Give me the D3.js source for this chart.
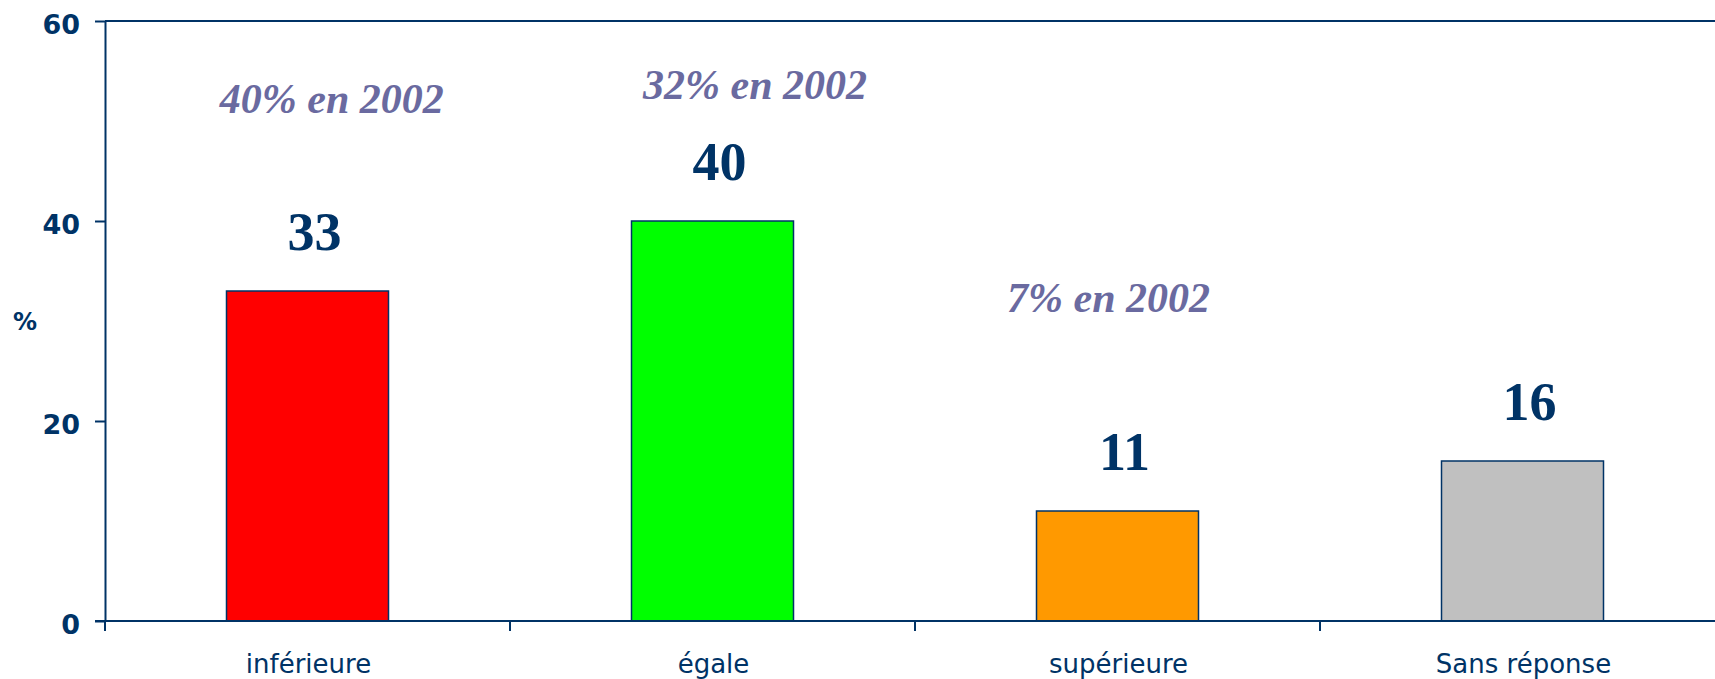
<!DOCTYPE html>
<html>
<head>
<meta charset="utf-8">
<script src="https://cdn.jsdelivr.net/npm/d3@7/dist/d3.min.js"></script>
<style>
  html, body { margin: 0; padding: 0; background: #ffffff; }
  svg { display: block; }
</style>
</head>
<body>
<svg id="chart" width="1715" height="679"></svg>
<script>
// ---- data ----
const categories = ["inférieure", "égale", "supérieure", "Sans réponse"];
const values = [33, 40, 11, 16];
const barColors = ["#ff0000", "#00ff00", "#ff9900", "#c0c0c0"];
const yTicks = [0, 20, 40, 60];
const annotationTexts = ["40% en 2002", "32% en 2002", "7% en 2002"];
const annotationCategories = ["inférieure", "égale", "supérieure"];
const annotationLevels = [50.8, 52.2, 30.9];
const annotationShift = [0.06, 0.105, -0.022];

// ---- layout ----
const plotLeft = 105, plotTop = 21, plotBottom = 621, plotRight = 1725;
const navy = "#003366";

const svg = d3.select("#chart");

const x = d3.scaleBand().domain(categories).range([plotLeft, plotRight]).padding(0);
const y = d3.scaleLinear().domain([0, 60]).range([plotBottom, plotTop]);
const bw = x.bandwidth();

// top frame line
svg.append("line")
  .attr("x1", plotLeft).attr("x2", plotRight)
  .attr("y1", y(60)).attr("y2", y(60))
  .attr("stroke", navy).attr("stroke-width", 2);

// bars
svg.selectAll("rect.bar")
  .data(categories)
  .join("rect")
  .attr("class", "bar")
  .attr("x", c => x(c) + bw * 0.3)
  .attr("width", bw * 0.4)
  .attr("y", (c, i) => y(values[i]))
  .attr("height", (c, i) => y(0) - y(values[i]))
  .attr("fill", (c, i) => barColors[i])
  .attr("stroke", navy)
  .attr("stroke-width", 1.5);

// y axis
const yAxis = d3.axisLeft(y)
  .tickValues(yTicks)
  .tickSize(10)
  .tickSizeOuter(0)
  .tickPadding(15)
  .tickFormat(d3.format("d"));
const gy = svg.append("g")
  .attr("transform", `translate(${plotLeft},0)`)
  .call(yAxis);
gy.select(".domain").attr("stroke", navy).attr("stroke-width", 2);
gy.selectAll(".tick line").attr("stroke", navy).attr("stroke-width", 2);
gy.selectAll(".tick text")
  .attr("fill", navy)
  .attr("font-family", "'DejaVu Sans', Verdana, sans-serif")
  .attr("font-weight", "bold")
  .attr("font-size", 27)
  .attr("dy", "0.48em");

// x axis line
svg.append("line")
  .attr("x1", plotLeft - 10).attr("x2", plotRight)
  .attr("y1", y(0)).attr("y2", y(0))
  .attr("stroke", navy).attr("stroke-width", 2);

// x ticks at band boundaries
svg.selectAll("line.xtick")
  .data(categories)
  .join("line")
  .attr("class", "xtick")
  .attr("x1", c => x(c)).attr("x2", c => x(c))
  .attr("y1", y(0)).attr("y2", y(0) + 10)
  .attr("stroke", navy).attr("stroke-width", 2);

// x labels
svg.selectAll("text.xlabel")
  .data(categories)
  .join("text")
  .attr("class", "xlabel")
  .attr("x", c => x(c) + bw / 2 + 1)
  .attr("y", y(0) + 52)
  .attr("text-anchor", "middle")
  .attr("fill", navy)
  .attr("font-family", "'DejaVu Sans', Verdana, sans-serif")
  .attr("font-size", 26)
  .text(c => c);

// value labels
svg.selectAll("text.value")
  .data(categories)
  .join("text")
  .attr("class", "value")
  .attr("x", c => x(c) + bw / 2 + 7)
  .attr("y", (c, i) => y(values[i]) - 41)
  .attr("text-anchor", "middle")
  .attr("fill", navy)
  .attr("font-family", "'Liberation Serif', 'Times New Roman', serif")
  .attr("font-weight", "bold")
  .attr("font-size", 54)
  .text((c, i) => values[i]);

// annotations (2002 values)
svg.selectAll("text.annot")
  .data(annotationTexts)
  .join("text")
  .attr("class", "annot")
  .attr("x", (t, i) => x(annotationCategories[i]) + bw * (0.5 + annotationShift[i]))
  .attr("y", (t, i) => y(annotationLevels[i]))
  .attr("text-anchor", "middle")
  .attr("fill", "#6a6aa0")
  .attr("font-family", "'Liberation Serif', 'Times New Roman', serif")
  .attr("font-weight", "bold")
  .attr("font-style", "italic")
  .attr("font-size", 42)
  .text(t => t);

// y unit label
svg.append("text")
  .attr("x", 25)
  .attr("y", y(30) + 9)
  .attr("text-anchor", "middle")
  .attr("fill", navy)
  .attr("font-family", "'DejaVu Sans', Verdana, sans-serif")
  .attr("font-weight", "bold")
  .attr("font-size", 24)
  .text("%");
</script>
</body>
</html>
